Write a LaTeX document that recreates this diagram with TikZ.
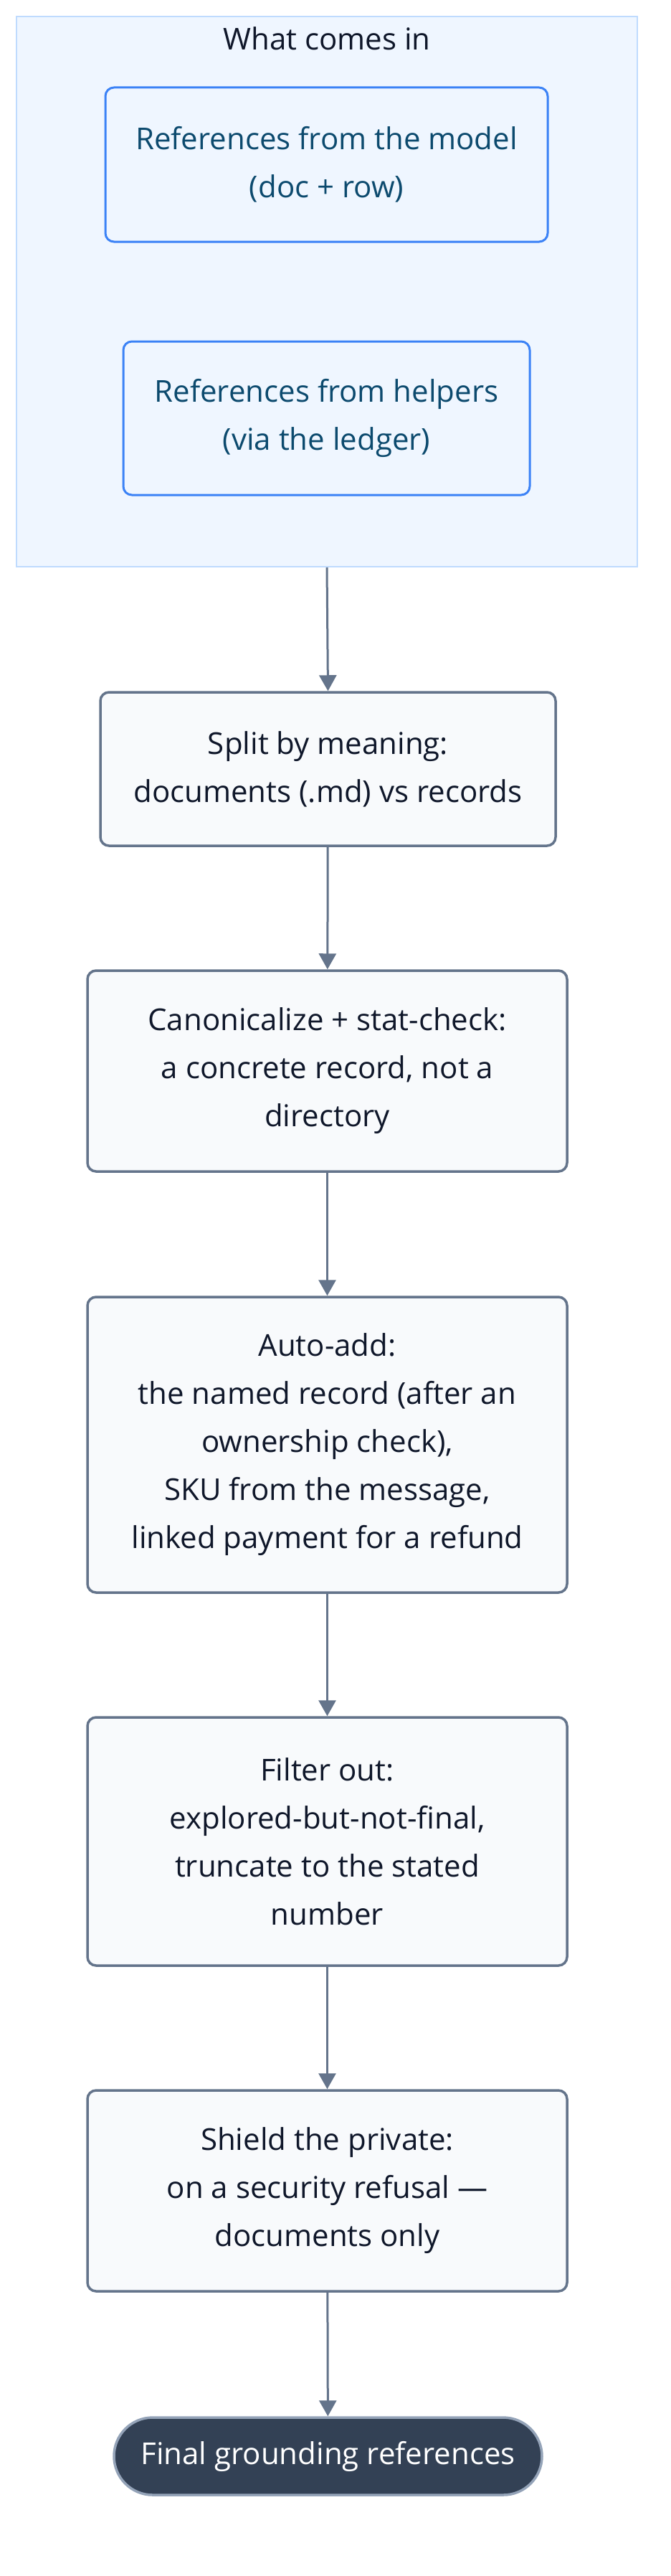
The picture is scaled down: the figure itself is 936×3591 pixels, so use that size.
\documentclass[tikz,border=0pt]{standalone}
\usepackage{fontspec}
\setmainfont{Open Sans}
\usetikzlibrary{arrows.meta}
\definecolor{clusterfill}{HTML}{EFF6FF}
\definecolor{clusterline}{HTML}{BFDBFE}
\definecolor{inline}{HTML}{3B82F6}
\definecolor{intext}{HTML}{0C4A6E}
\definecolor{stepfill}{HTML}{F8FAFC}
\definecolor{stepline}{HTML}{64748B}
\definecolor{steptext}{HTML}{0F172A}
\definecolor{finalfill}{HTML}{334155}
\definecolor{finalline}{HTML}{94A3B8}
\tikzset{
  txt/.style={font=\fontsize{42}{67}\selectfont, align=center, inner sep=0pt},
  cluster/.style={draw=clusterline, fill=clusterfill, line width=2pt, inner sep=0pt},
  inbox/.style={txt, draw=inline, fill=clusterfill, line width=3pt, rounded corners=12pt, text=intext},
  stepbox/.style={txt, draw=stepline, fill=stepfill, line width=3.5pt, rounded corners=12pt, text=steptext},
  finalbox/.style={txt, draw=finalline, fill=finalfill, line width=3.5pt, rounded corners=54pt, text=white},
  flow/.style={draw=stepline, line width=3pt, -{Triangle[width=24pt,length=22pt]}}
}
\begin{document}
\begin{tikzpicture}[x=1pt,y=-1pt]
\useasboundingbox (0,0) rectangle (936,3591);
\node[cluster, minimum width=866pt, minimum height=767pt] (cl) at (456,406.5) {};
\node[txt, text=steptext] (title) at (456,54) {What comes in};
\node[inbox, minimum width=617pt, minimum height=215pt] (model) at (455.5,229.5) {References from the model\\(doc + row)};
\node[inbox, minimum width=567pt, minimum height=214pt] (helpers) at (455.5,583) {References from helpers\\(via the ledger)};
\node[stepbox, minimum width=635pt, minimum height=214pt] (split) at (457.5,1072) {Split by meaning:\\documents (.md) vs records};
\node[stepbox, minimum width=669pt, minimum height=280pt] (canon) at (456.5,1493) {Canonicalize + stat-check:\\a concrete record, not a\\directory};
\node[stepbox, minimum width=669pt, minimum height=412pt] (auto) at (456.5,2014) {Auto-add:\\the named record (after an\\ownership check),\\SKU from the message,\\linked payment for a refund};
\node[stepbox, minimum width=669pt, minimum height=346pt] (filter) at (456.5,2567) {Filter out:\\explored-but-not-final,\\truncate to the stated\\number};
\node[stepbox, minimum width=669pt, minimum height=280pt] (shield) at (456.5,3054) {Shield the private:\\on a security refusal —\\documents only};
\node[finalbox, minimum width=597pt, minimum height=108pt] (final) at (457.5,3424) {Final grounding references};
\draw[flow] (cl.south) -- (split.north);
\draw[flow] (split) -- (canon);
\draw[flow] (canon) -- (auto);
\draw[flow] (auto) -- (filter);
\draw[flow] (filter) -- (shield);
\draw[flow] (shield) -- (final);
\end{tikzpicture}
\end{document}
